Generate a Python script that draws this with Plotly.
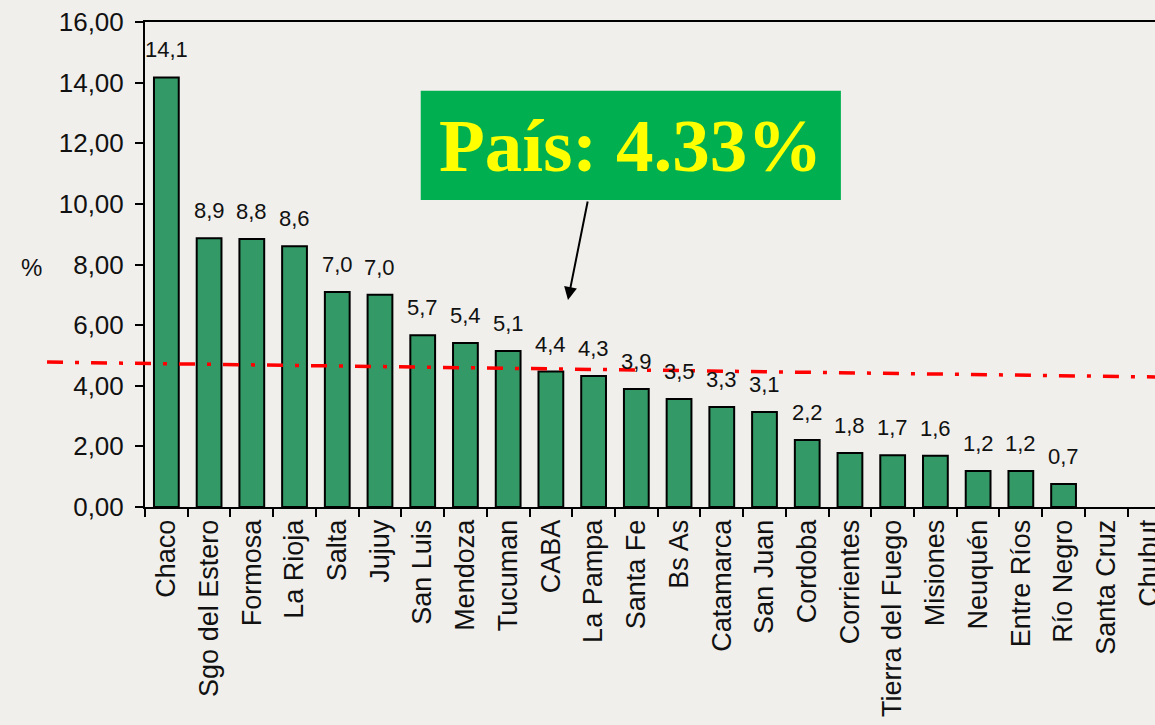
import plotly.graph_objects as go

provincias = ["Chaco", "Sgo del Estero", "Formosa", "La Rioja", "Salta", "Jujuy", "San Luis",
              "Mendoza", "Tucuman", "CABA", "La Pampa", "Santa Fe", "Bs As", "Catamarca",
              "San Juan", "Cordoba", "Corrientes", "Tierra del Fuego", "Misiones", "Neuquén",
              "Entre Ríos", "Río Negro", "Santa Cruz", "Chubut"]
valores = [14.17, 8.87, 8.84, 8.6, 7.09, 7.0, 5.67, 5.41, 5.15, 4.47, 4.32, 3.89, 3.56, 3.3,
           3.13, 2.21, 1.78, 1.71, 1.69, 1.19, 1.19, 0.76, None, None]
etiquetas = ["14,1", "8,9", "8,8", "8,6", "7,0", "7,0", "5,7", "5,4", "5,1", "4,4", "4,3", "3,9",
             "3,5", "3,3", "3,1", "2,2", "1,8", "1,7", "1,6", "1,2", "1,2", "0,7", "", ""]
y_ticks = [0, 2, 4, 6, 8, 10, 12, 14, 16]
linea_pais = [4.78, 4.29]  # red dash-dot reference line, left and right ends
texto_pais = "País: 4.33%"

BG = "#F0EFEC"
FONT = "Liberation Sans, Arial"
fig = go.Figure()
fig.add_trace(go.Bar(
    x=provincias, y=valores,
    marker=dict(color="#339966", line=dict(color="black", width=2)),
    width=0.58, hoverinfo="x+y",
))

for p, v, t in zip(provincias, valores, etiquetas):
    if v is not None and t:
        fig.add_annotation(x=p, y=v, text=t, showarrow=False, yanchor="bottom",
                           yshift=13, font=dict(family=FONT, size=22, color="#111"))

# red dash-dot line
fig.add_shape(type="line", xref="paper", yref="y", x0=-0.097, x1=1.0,
              y0=linea_pais[0], y1=linea_pais[1],
              line=dict(color="#FF0000", width=3.5, dash="16px,12px,4px,12px"), layer="above")

# green box
fig.add_shape(type="rect", xref="paper", yref="paper", x0=0.273, x1=0.689, y0=0.633, y1=0.858,
              fillcolor="#00B050", line=dict(width=0), layer="above")
fig.add_annotation(xref="paper", yref="paper", x=0.481, y=0.745, text="<b>" + texto_pais + "</b>",
                   showarrow=False, font=dict(family="Liberation Serif, DejaVu Serif", size=75, color="#FFFF00"),
                   xanchor="center", yanchor="middle")
# arrow
fig.add_annotation(x=9.4, y=6.83, xref="x", yref="y", text="", showarrow=True,
                   arrowhead=2, arrowsize=1.3, arrowwidth=2, arrowcolor="black", ax=20, ay=-100)

# "%" label
fig.add_annotation(xref="paper", yref="y", x=-0.112, y=7.9, text="%", showarrow=False,
                   xanchor="center", yanchor="middle",
                   font=dict(family=FONT, size=24, color="#111"))

fig.update_layout(
    template="none",
    width=1155, height=725,
    margin=dict(l=145, r=0, t=22, b=218, pad=0),
    paper_bgcolor=BG, plot_bgcolor=BG,
    separators=",.",
    showlegend=False,
    font=dict(family=FONT, size=26, color="#111"),
    xaxis=dict(
        type="category", range=[-0.5, 23.14], tickangle=-90, automargin=False,
        showline=True, linecolor="black", linewidth=2, mirror=True,
        ticks="outside", tickson="boundaries", ticklen=8, tickwidth=2, tickcolor="black",
        tickfont=dict(family=FONT, size=27, color="#111"), showgrid=False, zeroline=False,
    ),
    yaxis=dict(
        range=[0, 16], tickvals=y_ticks, tickformat=".2f", automargin=False,
        showline=True, linecolor="black", linewidth=2, ticklabelstandoff=6,
        ticks="outside", ticklen=8, tickwidth=2, tickcolor="black",
        tickfont=dict(family=FONT, size=26, color="#111"), showgrid=False, zeroline=False,
    ),
)

fig.write_html("out.html", config={"displayModeBar": False},
               post_script="document.body.style.margin='0';document.body.style.overflow='hidden';"
                           "document.body.style.background='" + BG + "';")
